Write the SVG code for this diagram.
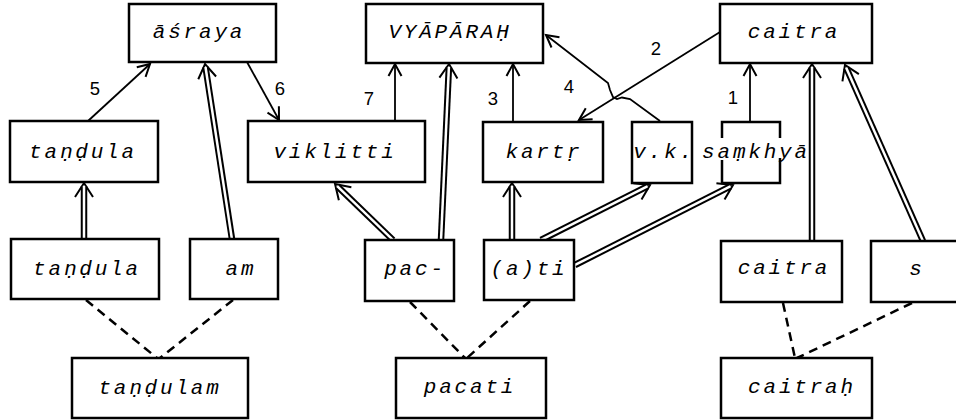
<svg xmlns="http://www.w3.org/2000/svg" width="956" height="420" viewBox="0 0 956 420">
  <style>
    .box { fill: #fff; stroke: #000; stroke-width: 2.5; }
    .open { fill: none; stroke: #000; stroke-width: 2.5; stroke-linejoin: miter; }
    .lbl { font-family: "Liberation Mono", "DejaVu Sans Mono", monospace; font-style: italic; font-size: 21px; letter-spacing: 2.8px; text-anchor: middle; fill: #000; }
    .num { font-family: "Liberation Sans", Arial, sans-serif; font-size: 18.5px; text-anchor: middle; fill: #000; }
    .single { fill: none; stroke: #000; stroke-width: 1.8; marker-end: url(#head); }
    .dblOuter { fill: none; stroke: #000; stroke-width: 6.5; stroke-linecap: butt; marker-end: url(#head2); }
    .dblInner { fill: none; stroke: #fff; stroke-width: 2.5; stroke-linecap: butt; }
    .dash { fill: none; stroke: #000; stroke-width: 2.5; stroke-dasharray: 9 6; }
  </style>
  <defs>
    <marker id="head" markerUnits="userSpaceOnUse" markerWidth="30" markerHeight="30" refX="0" refY="0" orient="auto" overflow="visible" viewBox="-15 -15 30 30">
      <path d="M-12,-6.5 L0,0 L-12,6.5" fill="none" stroke="#000" stroke-width="2"/>
    </marker>
    <marker id="head2" markerUnits="userSpaceOnUse" markerWidth="30" markerHeight="30" refX="0" refY="0" orient="auto" overflow="visible" viewBox="-15 -15 30 30">
      <path d="M-11,-9 L3,0 L-11,9" fill="none" stroke="#000" stroke-width="2"/>
    </marker>
  </defs>
  <rect width="956" height="420" fill="#fff"/>

  <g id="connectors">
    <!-- numbered single arrows -->
    <path class="single" d="M88,121 L150,64"/>
    <path class="single" d="M247,62 L279,120"/>
    <path class="single" d="M395,121 L395,64"/>
    <path class="single" d="M513,122 L513,64"/>
    <path class="single" d="M720,32 L579,120"/>
    <path class="single" d="M660,121 L630,99 L622,97.5 L617,99 L613,97 L610,90 L608,83 L546,35"/>
    <path class="single" d="M750,122 L750,64"/>

    <!-- double arrows -->
    <path class="dblOuter" d="M84,239 L84,186"/>
    <path class="dblInner" d="M84,239.5 L84,186"/>
    <path class="dblOuter" d="M232,239 L205.5,67"/>
    <path class="dblInner" d="M232,239.5 L205.5,67"/>
    <path class="dblOuter" d="M393,240 L337.2,186.1"/>
    <path class="dblInner" d="M393.4,240.4 L337.2,186.1"/>
    <path class="dblOuter" d="M441,240 L448.9,67"/>
    <path class="dblInner" d="M441,240.5 L448.9,67"/>
    <path class="dblOuter" d="M512,240 L512,186"/>
    <path class="dblInner" d="M512,240.5 L512,186"/>
    <path class="dblOuter" d="M541,240 L647.3,186.4"/>
    <path class="dblInner" d="M540.6,240.2 L647.3,186.4"/>
    <path class="dblOuter" d="M575,265 L730.3,186.4"/>
    <path class="dblInner" d="M574.6,265.2 L730.3,186.4"/>
    <path class="dblOuter" d="M812,241 L812,67"/>
    <path class="dblInner" d="M812,241.5 L812,67"/>
    <path class="dblOuter" d="M923,241 L846.2,67.7"/>
    <path class="dblInner" d="M923.2,241.5 L846.2,67.7"/>

    <!-- dashed composition lines -->
    <path class="dash" d="M86,300 L157,358"/>
    <path class="dash" d="M233,300 L160,358"/>
    <path class="dash" d="M410,302 L465,358"/>
    <path class="dash" d="M530,301 L467,358"/>
    <path class="dash" d="M783,303 L795,358"/>
    <path class="dash" d="M912,303 L797,358"/>
  </g>

  <g id="labels">
    <text class="num" x="95" y="95">5</text>
    <text class="num" x="280" y="95">6</text>
    <text class="num" x="369" y="105">7</text>
    <text class="num" x="493" y="105">3</text>
    <text class="num" x="569" y="93">4</text>
    <text class="num" x="656" y="55">2</text>
    <text class="num" x="733" y="104">1</text>
  </g>

  <g id="asraya"><rect class="box" x="129" y="4" width="147" height="58"/><text class="lbl" x="199" y="38">āśraya</text></g>
  <g id="vyapara"><rect class="box" x="366" y="4" width="177" height="59"/><text class="lbl" x="450" y="38">VYĀPĀRAḤ</text></g>
  <g id="caitra-top"><rect class="box" x="720" y="4" width="152" height="59"/><text class="lbl" x="794" y="38">caitra</text></g>

  <g id="tandula-mid"><rect class="box" x="10" y="121" width="148" height="61"/><text class="lbl" x="83" y="158">taṇḍula</text></g>
  <g id="viklitti"><rect class="box" x="248" y="121" width="177" height="61"/><text class="lbl" x="335" y="158">viklitti</text></g>
  <g id="kartr"><rect class="box" x="483" y="122" width="120" height="60"/><text class="lbl" x="544" y="158">kartṛ</text></g>
  <g id="vk"><rect class="box" x="632" y="122" width="60" height="61"/><text class="lbl" x="664" y="158">v.k.</text></g>
  <g id="samkhya"><path class="open" d="M722,138 V122 H780 V138 M722,160 V183 H780 V158"/><text class="lbl" x="756" y="158">saṃkhyā</text></g>

  <g id="tandula-bot"><rect class="box" x="11" y="239" width="148" height="60"/><text class="lbl" x="87" y="275">taṇḍula</text></g>
  <g id="am"><rect class="box" x="190" y="239" width="88" height="60"/><text class="lbl" x="241" y="275">am</text></g>
  <g id="pac"><rect class="box" x="365" y="240" width="89" height="61"/><text class="lbl" x="415" y="275">pac-</text></g>
  <g id="ati"><rect class="box" x="484" y="240" width="90" height="60"/><text class="lbl" x="529" y="275">(a)ti</text></g>
  <g id="caitra-bot"><rect class="box" x="721" y="241" width="121" height="61"/><text class="lbl" x="784" y="274">caitra</text></g>
  <g id="s"><rect class="box" x="871" y="241" width="90" height="61"/><text class="lbl" x="917" y="275">s</text></g>

  <g id="tandulam"><rect class="box" x="72" y="358" width="176" height="60"/><text class="lbl" x="160" y="394">taṇḍulam</text></g>
  <g id="pacati"><rect class="box" x="396" y="358" width="150" height="60"/><text class="lbl" x="470" y="393">pacati</text></g>
  <g id="caitrah"><rect class="box" x="721" y="358" width="151" height="60"/><text class="lbl" x="802" y="393">caitraḥ</text></g>
</svg>
